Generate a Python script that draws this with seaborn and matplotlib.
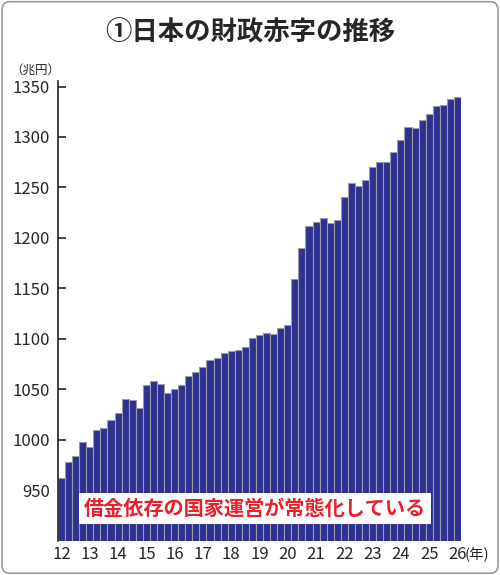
import matplotlib
matplotlib.use("Agg")
import matplotlib.pyplot as plt
import seaborn as sns
import pandas as pd
from matplotlib.patches import FancyBboxPatch

values = [962, 978, 984, 998, 993, 1010, 1012, 1019, 1026, 1040, 1039, 1031,
          1054, 1058, 1055, 1046, 1050, 1054, 1063, 1067, 1072, 1079, 1081, 1086,
          1088, 1089, 1092, 1101, 1104, 1106, 1105, 1111, 1114, 1159, 1190, 1212,
          1216, 1220, 1215, 1218, 1241, 1254, 1251, 1257, 1270, 1275, 1275, 1285,
          1297, 1310, 1309, 1317, 1323, 1331, 1332, 1338, 1340]
year_labels = [str(y) for y in range(12, 27)]
yticks = [950, 1000, 1050, 1100, 1150, 1200, 1250, 1300, 1350]

sns.set_theme(style="white")
plt.rcParams['font.family'] = ['Noto Sans CJK JP', 'DejaVu Sans']

fig = plt.figure(figsize=(5.0, 5.75), dpi=100)
fig.patches.append(FancyBboxPatch((0.004, 0.003), 0.992, 0.994, boxstyle="round,pad=0,rounding_size=0.015",
                                  transform=fig.transFigure, fill=False, edgecolor="#999999", lw=1.2))
ax = fig.add_axes([0.116, 0.06, 0.806, 0.80])
df = pd.DataFrame({"i": range(len(values)), "v": values})
sns.barplot(data=df, x="i", y="v", color="#2e3192", saturation=1, width=1.0,
            edgecolor="#9a9aa8", linewidth=0.8, ax=ax)
ax.set_ylim(900, 1356)
ax.set_xlim(-0.5, len(values) - 0.5)
ax.set_yticks(yticks)
ax.set_yticklabels([str(t) for t in yticks], fontsize=12)
ax.set_xticks([4 * k for k in range(len(year_labels))])
ax.set_xticklabels(year_labels, fontsize=12)
ax.tick_params(axis="y", direction="in", length=6, width=1.2, left=True, pad=6)
ax.tick_params(axis="x", length=0, pad=4)
ax.set_xlabel(""); ax.set_ylabel("")
for s in ["top", "right", "bottom"]:
    ax.spines[s].set_visible(False)
ax.spines["left"].set_color("#222222"); ax.spines["left"].set_linewidth(1.2)

fig.text(0.5, 0.943, "①日本の財政赤字の推移", ha="center", va="center", fontsize=19, fontweight="bold")
fig.text(0.02, 0.878, "（兆円）", ha="left", va="center", fontsize=9)
fig.text(0.93, 0.035, "(年)", ha="left", va="center", fontsize=10.5)
ax.text(0.065, 0.07, "借金依存の国家運営が常態化している", transform=ax.transAxes, ha="left", va="center",
        fontsize=14.5, color="#e8202a", fontweight="bold",
        bbox=dict(facecolor="white", edgecolor="none", boxstyle="square,pad=0.25"))
fig.savefig("out.png", dpi=100)
